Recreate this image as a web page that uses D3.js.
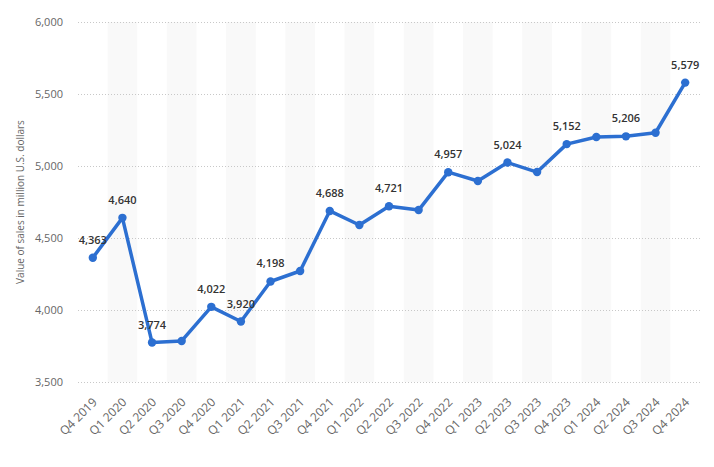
<!DOCTYPE html>
<html><head><meta charset="utf-8">
<script src="https://cdn.jsdelivr.net/npm/d3@7"></script>
<style>body{margin:0;background:#fff;font-family:"Open Sans",sans-serif;}</style>
</head><body><svg id="c" width="714" height="467"></svg>
<script>
const categories = ["Q4 2019","Q1 2020","Q2 2020","Q3 2020","Q4 2020","Q1 2021","Q2 2021","Q3 2021","Q4 2021","Q1 2022","Q2 2022","Q3 2022","Q4 2022","Q1 2023","Q2 2023","Q3 2023","Q4 2023","Q1 2024","Q2 2024","Q3 2024","Q4 2024"];
const values = [4363,4640,3774,3785,4022,3920,4198,4271,4688,4590,4721,4694,4957,4896,5024,4958,5152,5201,5206,5231,5579];
const showLabel = [true,true,true,false,true,true,true,false,true,false,true,false,true,false,true,false,true,false,true,false,true];
const yTicks = [3500,4000,4500,5000,5500,6000];
const yTitle = "Value of sales in million U.S. dollars";

const svg = d3.select("#c");
const L = 78, R = 700, T = 22, B = 382;
const x = d3.scaleBand().domain(categories).range([L, R]);
const y = d3.scaleLinear().domain([3500, 6000]).range([B, T]);

// alternating bands
svg.append("g").selectAll("rect").data(categories.filter((d,i)=>i%2===1)).join("rect")
  .attr("x", d=>x(d)).attr("width", x.bandwidth()).attr("y", T).attr("height", B-T)
  .attr("fill", "#f9f9f9");

// grid
const yAxis = svg.append("g").attr("transform", `translate(${L},0)`)
  .call(d3.axisLeft(y).tickValues(yTicks).tickFormat(d3.format(",")).tickSize(-(R-L)).tickPadding(15));
yAxis.select(".domain").remove();
yAxis.selectAll("line").attr("stroke","#c8c8c8").attr("stroke-dasharray","1,2");
yAxis.selectAll("text").attr("fill","#666").attr("font-size","11px").attr("font-family","Open Sans");

// x axis
const xAxis = svg.append("g").attr("transform", `translate(0,${B})`)
  .call(d3.axisBottom(x).tickSize(0).tickPadding(0));
xAxis.select(".domain").remove();
xAxis.selectAll("text").attr("fill","#666").attr("font-size","12px").attr("font-family","Open Sans")
  .attr("text-anchor","end").attr("dy",null)
  .attr("transform","translate(5,21) rotate(-45)");

// y title
svg.append("text").attr("transform",`translate(24,${(T+B)/2}) rotate(-90)`)
  .attr("text-anchor","middle").attr("fill","#666").attr("font-size","10px").attr("font-family","Open Sans")
  .text(yTitle);

const cx = d => x(d) + x.bandwidth()/2;
const pts = categories.map((c,i)=>({c, v: values[i], s: showLabel[i]}));
svg.append("path").datum(pts)
  .attr("d", d3.line().x(d=>cx(d.c)).y(d=>y(d.v)))
  .attr("fill","none").attr("stroke","#2c6fd1").attr("stroke-width",3.5).attr("stroke-linejoin","round");
svg.append("g").selectAll("circle").data(pts).join("circle")
  .attr("cx", d=>cx(d.c)).attr("cy", d=>y(d.v)).attr("r",4.2).attr("fill","#2c6fd1");
svg.append("g").selectAll("text").data(pts.filter(d=>d.s)).join("text")
  .attr("x", d=>cx(d.c)).attr("y", d=>y(d.v)-14)
  .attr("text-anchor","middle").attr("fill","#333").attr("font-size","11px").attr("font-weight","600")
  .attr("font-family","Open Sans").text(d=>d3.format(",")(d.v));
</script></body></html>
